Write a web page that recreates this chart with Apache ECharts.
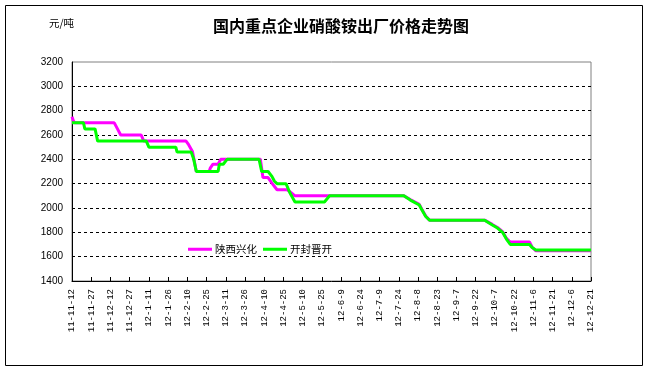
<!DOCTYPE html>
<html>
<head>
<meta charset="utf-8">
<script src="https://cdn.jsdelivr.net/npm/echarts@6/dist/echarts.min.js"></script>
<style>html,body{margin:0;padding:0;background:#fff}#c{width:650px;height:372px}</style>
</head>
<body>
<div id="c"></div>
<script>
// Chart data
const title = '国内重点企业硝酸铵出厂价格走势图';
const unit = '元/吨';
const startDate = '2011-11-12';
const endDate = '2012-12-21';
const seriesNames = ['陕西兴化', '开封晋开'];
const yTicks = [1400, 1600, 1800, 2000, 2200, 2400, 2600, 2800, 3000, 3200];
// [date (yy-m-d), price]
const shaanxiXinghua = [
  ['11-11-12', 2750], ['11-11-13', 2720], ['11-11-14', 2700], ['11-12-15', 2700],
  ['11-12-18', 2640], ['11-12-20', 2600], ['12-1-5', 2600], ['12-1-7', 2550],
  ['12-2-9', 2550], ['12-2-11', 2520], ['12-2-14', 2465], ['12-2-17', 2300],
  ['12-2-27', 2300], ['12-2-28', 2330], ['12-3-1', 2360], ['12-3-5', 2360],
  ['12-3-7', 2400], ['12-4-7', 2400], ['12-4-9', 2250], ['12-4-13', 2250],
  ['12-4-16', 2205], ['12-4-20', 2150], ['12-4-28', 2150], ['12-5-1', 2125],
  ['12-5-4', 2100], ['12-7-28', 2100], ['12-8-2', 2070], ['12-8-9', 2030],
  ['12-8-11', 1990], ['12-8-14', 1935], ['12-8-17', 1900], ['12-9-29', 1900],
  ['12-10-5', 1865], ['12-10-9', 1840], ['12-10-13', 1805], ['12-10-16', 1750],
  ['12-10-19', 1720], ['12-11-3', 1720], ['12-11-5', 1680], ['12-11-8', 1648],
  ['12-12-21', 1648]
];
const kaifengJinkai = [
  ['11-11-12', 2700], ['11-11-21', 2700], ['11-11-22', 2650], ['11-11-30', 2650],
  ['11-12-2', 2550], ['12-1-9', 2550], ['12-1-11', 2500], ['12-2-1', 2500],
  ['12-2-2', 2460], ['12-2-13', 2460], ['12-2-15', 2400], ['12-2-17', 2300],
  ['12-3-5', 2300], ['12-3-6', 2360], ['12-3-9', 2360], ['12-3-12', 2400],
  ['12-4-6', 2400], ['12-4-8', 2300], ['12-4-13', 2300], ['12-4-16', 2260],
  ['12-4-18', 2220], ['12-4-20', 2200], ['12-4-27', 2200], ['12-4-30', 2125],
  ['12-5-4', 2050], ['12-5-27', 2050], ['12-5-31', 2100], ['12-7-28', 2100],
  ['12-8-2', 2065], ['12-8-9', 2025], ['12-8-11', 1985], ['12-8-14', 1930],
  ['12-8-17', 1900], ['12-9-29', 1900], ['12-10-5', 1860], ['12-10-9', 1835],
  ['12-10-13', 1800], ['12-10-16', 1745], ['12-10-19', 1700], ['12-11-3', 1700],
  ['12-11-5', 1675], ['12-11-8', 1655], ['12-12-21', 1655]
];

// daily categories
const categories = [];
(function () {
  const d = new Date(startDate + 'T00:00:00Z');
  const end = new Date(endDate + 'T00:00:00Z');
  while (d <= end) {
    categories.push(String(d.getUTCFullYear()).slice(2) + '-' + (d.getUTCMonth() + 1) + '-' + d.getUTCDate());
    d.setUTCDate(d.getUTCDate() + 1);
  }
})();

const chart = echarts.init(document.getElementById('c'), null, { renderer: 'canvas' });
chart.setOption({
  animation: false,
  backgroundColor: '#fff',
  title: {
    text: title,
    left: 208, top: 13,
    textStyle: { fontFamily: 'Noto Sans CJK SC', fontWeight: 'bold', fontSize: 16, color: '#000' }
  },
  graphic: [
    { type: 'rect', shape: { x: 5.5, y: 5.5, width: 637, height: 360 }, style: { fill: 'none', stroke: '#000', lineWidth: 1 }, silent: true },
    { type: 'text', left: 49, top: 18, style: { text: unit, fontFamily: 'Noto Sans CJK SC', fontSize: 10.5, fill: '#000' } }
  ],
  legend: {
    left: 183, top: 239,
    icon: 'rect',
    itemWidth: 24, itemHeight: 3, itemGap: 6,
    data: seriesNames,
    textStyle: { fontFamily: 'Noto Sans CJK SC', fontSize: 10.5, color: '#000', padding: [0, 0, 0, -2] }
  },
  grid: { left: 72, top: 62, right: 59, bottom: 91, show: true, borderColor: '#808080', borderWidth: 1 },
  xAxis: {
    type: 'category',
    data: categories,
    boundaryGap: false,
    axisLine: { lineStyle: { color: '#000', width: 1 } },
    axisTick: { show: true, inside: true, length: 4, interval: 14, lineStyle: { color: '#000' } },
    axisLabel: { interval: 14, rotate: 90, margin: 8, fontFamily: 'Liberation Mono', fontSize: 9, color: '#000' },
    splitLine: { show: false }
  },
  yAxis: {
    type: 'value',
    min: yTicks[0], max: yTicks[yTicks.length - 1], interval: 200,
    axisLine: { show: true, lineStyle: { color: '#000', width: 1 } },
    axisTick: { show: false },
    axisLabel: { margin: 9, fontFamily: 'Liberation Sans', fontSize: 10, color: '#000', formatter: v => String(v) },
    splitLine: { show: true, showMinLine: false, showMaxLine: false, lineStyle: { color: '#000', type: [3, 3], width: 1 } }
  },
  series: [
    { name: seriesNames[0], type: 'line', data: shaanxiXinghua, symbol: 'none', lineStyle: { color: '#ff00ff', width: 3 }, itemStyle: { color: '#ff00ff' } },
    { name: seriesNames[1], type: 'line', data: kaifengJinkai, symbol: 'none', lineStyle: { color: '#00ff00', width: 3 }, itemStyle: { color: '#00ff00' } }
  ]
});
</script>
</body>
</html>
